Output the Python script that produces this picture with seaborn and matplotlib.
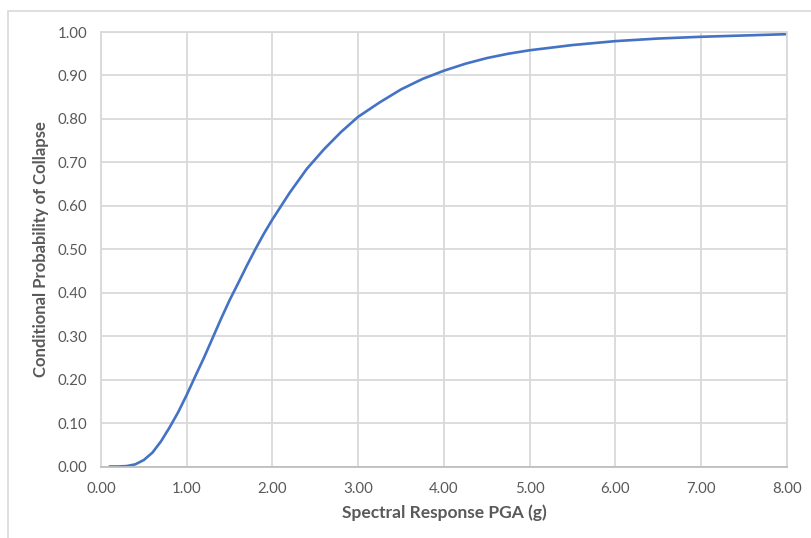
import matplotlib
matplotlib.use("Agg")
import matplotlib.pyplot as plt
from matplotlib.patches import Rectangle
import seaborn as sns
import pandas as pd

# Fragility curve: spectral response PGA (g) vs. conditional probability of collapse
pga_g = [0.1, 0.2, 0.3, 0.4, 0.5, 0.6, 0.7, 0.8, 0.9, 1.0,
         1.1, 1.2, 1.3, 1.4, 1.5, 1.6, 1.7, 1.8, 1.9, 2.0,
         2.2, 2.4, 2.6, 2.8, 3.0, 3.25, 3.5, 3.75, 4.0, 4.25,
         4.5, 4.75, 5.0, 5.5, 6.0, 6.5, 7.0, 7.5, 8.0]
p_collapse = [0.000, 0.000, 0.001, 0.005, 0.015, 0.032, 0.058, 0.090, 0.125, 0.165,
              0.208, 0.250, 0.295, 0.340, 0.383, 0.422, 0.462, 0.500, 0.536, 0.569,
              0.630, 0.685, 0.730, 0.770, 0.805, 0.838, 0.868, 0.892, 0.911, 0.927,
              0.940, 0.950, 0.958, 0.970, 0.979, 0.985, 0.989, 0.992, 0.995]

x_ticks = [0, 1, 2, 3, 4, 5, 6, 7, 8]
y_ticks = [0.0, 0.1, 0.2, 0.3, 0.4, 0.5, 0.6, 0.7, 0.8, 0.9, 1.0]

df = pd.DataFrame({"pga": pga_g, "p": p_collapse})

sns.set_theme(style="white")
plt.rcParams["font.family"] = ["Lato", "DejaVu Sans"]

text_color = "#595959"
grid_color = "#D9D9D9"

fig = plt.figure(figsize=(8.12, 5.38), dpi=100)
ax = fig.add_axes([101 / 812, 1 - 466.5 / 538, 686 / 812, 434.5 / 538])

sns.lineplot(data=df, x="pga", y="p", ax=ax, color="#4472C4", linewidth=1.9)

ax.set_xlim(0, 8)
ax.set_ylim(0, 1)
ax.set_xticks(x_ticks)
ax.set_yticks(y_ticks)
ax.set_xticklabels([f"{v:.2f}" for v in x_ticks])
ax.set_yticklabels([f"{v:.2f}" for v in y_ticks])
ax.grid(True, color=grid_color, linewidth=1.3)
ax.set_axisbelow(True)

for side in ["top", "right", "left"]:
    ax.spines[side].set_color(grid_color)
    ax.spines[side].set_linewidth(1.3)
ax.spines["bottom"].set_color("#BFBFBF")
ax.spines["bottom"].set_linewidth(1.3)

ax.tick_params(axis="both", length=0, labelsize=10.8, labelcolor=text_color)
ax.tick_params(axis="x", pad=11)
ax.tick_params(axis="y", pad=10)

ax.set_xlabel("Spectral Response PGA (g)", fontsize=12.5, fontweight="bold",
              color=text_color, labelpad=6)
ax.set_ylabel("Conditional Probability of Collapse", fontsize=12, fontweight="bold",
              color=text_color, labelpad=6)

# Chart-area frame
fig.patches.append(Rectangle((8 / 812, -0.05), 1.0, 1 - 11 / 538 + 0.05,
                             transform=fig.transFigure, fill=False,
                             edgecolor=grid_color, linewidth=1.2, zorder=0))

fig.savefig("out.png", dpi=100, facecolor="white")
